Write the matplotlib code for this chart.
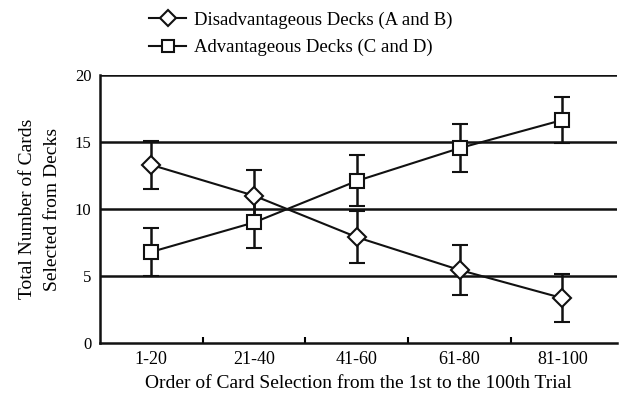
import matplotlib
matplotlib.use("Agg")
import matplotlib.pyplot as plt
from matplotlib.lines import Line2D
import numpy as np

plt.rcParams['font.family'] = ['Liberation Serif', 'DejaVu Serif']

categories = ["1-20", "21-40", "41-60", "61-80", "81-100"]
disadv = [13.3, 11.0, 7.9, 5.45, 3.35]
disadv_err = [1.8, 1.9, 1.95, 1.85, 1.8]
adv = [6.8, 9.0, 12.1, 14.55, 16.65]
adv_err = [1.8, 1.9, 1.9, 1.8, 1.75]
yticks = [0, 5, 10, 15, 20]

fig = plt.figure(figsize=(6.2, 4.04), dpi=100)
ax = fig.add_axes([0.161, 0.151, 0.834, 0.663])
x = np.arange(len(categories))

for yv in [5, 10, 15, 20]:
    ax.axhline(yv, color='#111111', lw=1.8, zorder=1)

ax.errorbar(x, disadv, yerr=disadv_err, color='#111111', lw=1.5, marker='D',
            ms=9, mfc='white', mec='#111111', mew=1.5, capsize=6, capthick=1.8,
            elinewidth=1.8, zorder=3)
ax.errorbar(x, adv, yerr=adv_err, color='#111111', lw=1.5, marker='s',
            ms=10, mfc='white', mec='#111111', mew=1.5, capsize=6, capthick=1.8,
            elinewidth=1.8, zorder=3)

ax.set_xlim(-0.5, len(categories) - 0.47)
ax.set_ylim(0, 20)
ax.set_xticks(x)
ax.set_xticklabels(categories, fontsize=13)
ax.set_xticks(x[:-1] + 0.5, minor=True)
ax.tick_params(axis='x', which='major', length=0, pad=6)
ax.tick_params(axis='x', which='minor', length=4, width=1.5, direction='in')
ax.set_yticks(yticks)
ax.set_yticklabels([str(v) for v in yticks], fontsize=12)
ax.tick_params(axis='y', length=0, pad=6)
for s in ['top', 'right']:
    ax.spines[s].set_visible(False)
for s in ['left', 'bottom']:
    ax.spines[s].set_linewidth(1.8)
    ax.spines[s].set_color('#111111')

ax.set_xlabel("Order of Card Selection from the 1st to the 100th Trial", fontsize=14, labelpad=5)
ax.set_ylabel("Total Number of Cards\nSelected from Decks", fontsize=14, labelpad=10, linespacing=1.6)

handles = [
    Line2D([], [], color='#111111', lw=1.5, marker='D', ms=8, mfc='white', mew=1.5),
    Line2D([], [], color='#111111', lw=1.5, marker='s', ms=9, mfc='white', mew=1.5),
]
fig.legend(handles, ["Disadvantageous Decks (A and B)", "Advantageous Decks (C and D)"],
           loc='upper center', bbox_to_anchor=(0.485, 1.0), frameon=False,
           fontsize=13.5, handlelength=2.0, handletextpad=0.4, labelspacing=0.55,
           borderaxespad=0.2)

fig.savefig("out.png", dpi=100)
